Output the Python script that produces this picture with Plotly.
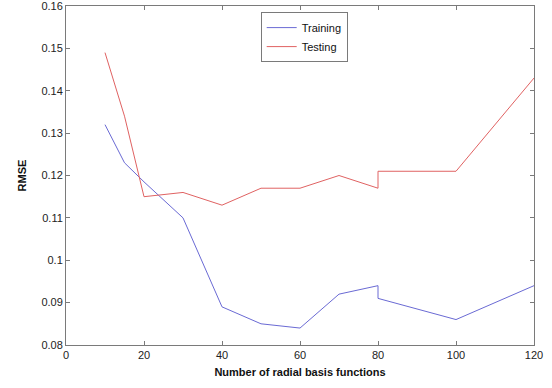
import plotly.graph_objects as go

n_rbf = [10, 15, 20, 30, 40, 50, 60, 70, 80, 80, 100, 120]
training = [0.132, 0.123, 0.1185, 0.110, 0.089, 0.085, 0.084, 0.092, 0.094, 0.091, 0.086, 0.094]
testing = [0.149, 0.134, 0.115, 0.116, 0.113, 0.117, 0.117, 0.120, 0.117, 0.121, 0.121, 0.143]

x_ticks = [0, 20, 40, 60, 80, 100, 120]
y_ticks = [0.08, 0.09, 0.10, 0.11, 0.12, 0.13, 0.14, 0.15, 0.16]
y_tick_labels = ["0.08", "0.09", "0.1", "0.11", "0.12", "0.13", "0.14", "0.15", "0.16"]

font_family = "Liberation Sans, Arial, sans-serif"

fig = go.Figure()
fig.add_trace(go.Scatter(x=n_rbf, y=training, mode="lines", name="Training",
                         line=dict(color="#6a6ad4", width=1)))
fig.add_trace(go.Scatter(x=n_rbf, y=testing, mode="lines", name="Testing",
                         line=dict(color="#e06262", width=1)))

axis_common = dict(showgrid=False, zeroline=False, showline=True, linecolor="#7a7a7a",
                   linewidth=1, mirror="ticks", ticks="inside", ticklen=4,
                   tickcolor="#7a7a7a", ticklabeloverflow="allow", automargin=False,
                   tickfont=dict(family=font_family, size=11, color="#222"))

fig.update_xaxes(range=[-0.0001, 120.0001], tickvals=x_ticks,
                 title=dict(text="<b>Number of radial basis functions</b>",
                            font=dict(family=font_family, size=11, color="#111"), standoff=8),
                 **axis_common)
fig.update_yaxes(range=[0.0799999, 0.1600001], tickvals=y_ticks, ticktext=y_tick_labels,
                 title=dict(text="<b>RMSE</b>",
                            font=dict(family=font_family, size=11, color="#111"), standoff=12),
                 **axis_common)

fig.update_layout(
    width=552, height=388,
    margin=dict(l=66, r=18, t=6, b=43),
    plot_bgcolor="white", paper_bgcolor="white",
    font=dict(family=font_family, size=11, color="#222"),
    legend=dict(x=0.416, y=0.982, xanchor="left", yanchor="top",
                bordercolor="#7a7a7a", borderwidth=1, bgcolor="white",
                font=dict(family=font_family, size=11, color="#111"),
                tracegroupgap=0, itemwidth=30),
    showlegend=True,
)

fig.write_html("out.html")
